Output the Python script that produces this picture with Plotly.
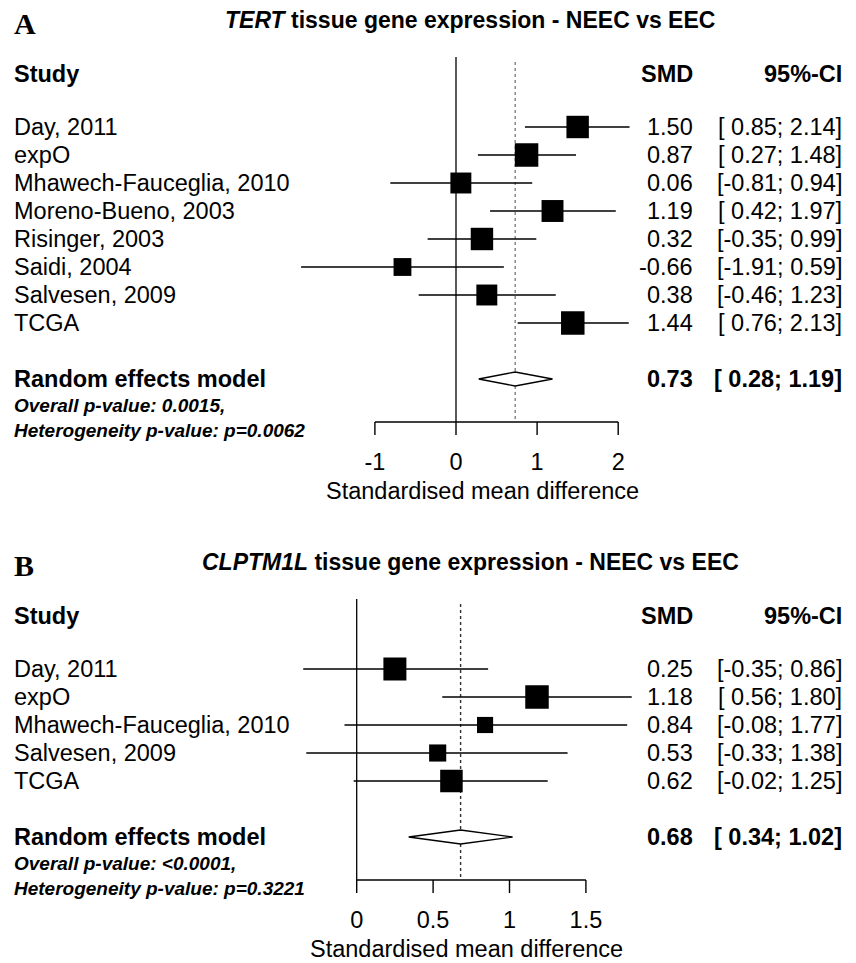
import math
import plotly.graph_objects as go

W, H = 856, 963

# ---------------- data: panel A (TERT) ----------------
a_gene = "TERT"
a_studies = ["Day, 2011", "expO", "Mhawech-Fauceglia, 2010", "Moreno-Bueno, 2003",
             "Risinger, 2003", "Saidi, 2004", "Salvesen, 2009", "TCGA"]
a_smd = [1.50, 0.87, 0.06, 1.19, 0.32, -0.66, 0.38, 1.44]
a_lo = [0.85, 0.27, -0.81, 0.42, -0.35, -1.91, -0.46, 0.76]
a_hi = [2.14, 1.48, 0.94, 1.97, 0.99, 0.59, 1.23, 2.13]
a_weight = [13.3, 14.6, 11.6, 12.7, 13.3, 8.4, 11.6, 14.6]
a_random = [0.73, 0.28, 1.19]          # estimate, lower, upper
a_pvals = ["Overall p-value: 0.0015,", "Heterogeneity p-value: p=0.0062"]
a_ticks = [-1, 0, 1, 2]
a_ticklabels = ["-1", "0", "1", "2"]

# ---------------- data: panel B (CLPTM1L) ----------------
b_gene = "CLPTM1L"
b_studies = ["Day, 2011", "expO", "Mhawech-Fauceglia, 2010", "Salvesen, 2009", "TCGA"]
b_smd = [0.25, 1.18, 0.84, 0.53, 0.62]
b_lo = [-0.35, 0.56, -0.08, -0.33, -0.02]
b_hi = [0.86, 1.80, 1.77, 1.38, 1.25]
b_weight = [24.7, 25.8, 12.2, 13.7, 23.7]
b_random = [0.68, 0.34, 1.02]
b_pvals = ["Overall p-value: <0.0001,", "Heterogeneity p-value: p=0.3221"]
b_ticks = [0, 0.5, 1, 1.5]
b_ticklabels = ["0", "0.5", "1", "1.5"]

# ---------------- layout constants ----------------
SANS = "Liberation Sans, Arial, Helvetica, sans-serif"
SERIF = "Liberation Serif, Times New Roman, serif"
FS = 23.5
ROW = 28
LEFT = 13
SMD_RIGHT = 694
CI_RIGHT = 843
TITLE_X = 470
MAX_SQ = 23.5

panels = [
    dict(letter="A", gene=a_gene, studies=a_studies, smd=a_smd, lo=a_lo, hi=a_hi,
         weight=a_weight, rnd=a_random, pvals=a_pvals, ticks=a_ticks,
         ticklabels=a_ticklabels, off=0, zero_px=456.0, ppu=81.1,
         xa="x", xlabel_x=482, dot_color="#808080"),
    dict(letter="B", gene=b_gene, studies=b_studies, smd=b_smd, lo=b_lo, hi=b_hi,
         weight=b_weight, rnd=b_random, pvals=b_pvals, ticks=b_ticks,
         ticklabels=b_ticklabels, off=542, zero_px=356.7, ppu=152.8,
         xa="x2", xlabel_x=466, dot_color="#303030"),
]

fig = go.Figure()
annotations = []


def ann(x, y, text, size=FS, xanchor="left", color="black", family=SANS):
    annotations.append(dict(x=x / W, y=y, xref="paper", yref="y", text=text,
                            showarrow=False, xanchor=xanchor, yanchor="middle",
                            borderpad=0,
                            font=dict(family=family, size=size, color=color)))


for p in panels:
    off = p["off"]
    n = len(p["studies"])
    title_y = 20 + off
    head_y = 74 + off
    first_y = 127 + off
    rows = [first_y + i * ROW for i in range(n)]
    re_y = rows[-1] + 2 * ROW
    axis_y = re_y + 43
    tick_lab_y = re_y + 85
    xlab_y = re_y + 112
    top_zero = 57 + off
    top_dot = 62 + off
    xa = p["xa"]

    # reference line at zero
    fig.add_trace(go.Scatter(x=[0, 0], y=[top_zero, axis_y], mode="lines",
                             line=dict(color="black", width=1.3), xaxis=xa, yaxis="y",
                             hoverinfo="skip", showlegend=False))
    # dotted line at random-effects estimate
    est, rlo, rhi = p["rnd"]
    fig.add_trace(go.Scatter(x=[est, est], y=[top_dot, axis_y], mode="lines",
                             line=dict(color=p["dot_color"], width=1.4, dash="dot"),
                             xaxis=xa, yaxis="y", hoverinfo="skip", showlegend=False))
    # confidence intervals
    cx, cy = [], []
    for lo, hi, r in zip(p["lo"], p["hi"], rows):
        cx += [lo, hi, None]
        cy += [r, r, None]
    fig.add_trace(go.Scatter(x=cx, y=cy, mode="lines", line=dict(color="black", width=1.5),
                             xaxis=xa, yaxis="y", hoverinfo="skip", showlegend=False))
    # squares sized by weight
    wmax = max(p["weight"])
    sizes = [MAX_SQ * math.sqrt(w / wmax) for w in p["weight"]]
    fig.add_trace(go.Scatter(x=p["smd"], y=rows, mode="markers",
                             marker=dict(symbol="square", size=sizes, color="black",
                                         opacity=1, line=dict(width=0)),
                             xaxis=xa, yaxis="y", hoverinfo="skip", showlegend=False))
    # diamond
    hh = 7
    fig.add_trace(go.Scatter(x=[rlo, est, rhi, est, rlo],
                             y=[re_y, re_y - hh, re_y, re_y + hh, re_y],
                             mode="lines", fill="toself", fillcolor="white",
                             line=dict(color="black", width=1.3),
                             xaxis=xa, yaxis="y", hoverinfo="skip", showlegend=False))
    # axis line with ticks
    t = p["ticks"]
    ax_x = [t[0], t[-1], None]
    ax_y = [axis_y, axis_y, None]
    for tv in t:
        ax_x += [tv, tv, None]
        ax_y += [axis_y, axis_y + 13, None]
    fig.add_trace(go.Scatter(x=ax_x, y=ax_y, mode="lines",
                             line=dict(color="black", width=1.4),
                             xaxis=xa, yaxis="y", hoverinfo="skip", showlegend=False))
    fig.add_trace(go.Scatter(x=t, y=[tick_lab_y] * len(t), mode="text",
                             text=p["ticklabels"], textposition="middle center",
                             textfont=dict(family=SANS, size=FS, color="black"),
                             xaxis=xa, yaxis="y", hoverinfo="skip", showlegend=False))

    # texts
    ann(LEFT, title_y + 3, "<b>%s</b>" % p["letter"], size=30, family=SERIF)
    ann(TITLE_X, title_y,
        "<b><i>%s</i> tissue gene expression - NEEC vs EEC</b>" % p["gene"],
        size=23, xanchor="center")
    ann(LEFT, head_y, "<b>Study</b>")
    ann(SMD_RIGHT, head_y, "<b>SMD</b>", xanchor="right")
    ann(CI_RIGHT, head_y, "<b>95%-CI</b>", xanchor="right")
    for s, v, lo, hi, r in zip(p["studies"], p["smd"], p["lo"], p["hi"], rows):
        ann(LEFT, r, s)
        ann(SMD_RIGHT, r, "%.2f" % v, xanchor="right")
        ann(CI_RIGHT, r, "[%5.2f; %.2f]" % (lo, hi), xanchor="right")
    ann(LEFT, re_y, "<b>Random effects model</b>")
    ann(SMD_RIGHT, re_y, "<b>%.2f</b>" % est, xanchor="right")
    ann(CI_RIGHT, re_y, "<b>[%5.2f; %.2f]</b>" % (rlo, rhi), xanchor="right")
    ann(LEFT, re_y + 26, "<b><i>%s</i></b>" % p["pvals"][0], size=19)
    ann(LEFT, re_y + 51, "<b><i>%s</i></b>" % p["pvals"][1], size=19)
    ann(p["xlabel_x"], xlab_y, "Standardised mean difference", xanchor="center")


def xrange(zero_px, ppu):
    return [-zero_px / ppu, (W - zero_px) / ppu]


fig.update_layout(
    width=W, height=H, margin=dict(l=0, r=0, t=0, b=0),
    paper_bgcolor="white", plot_bgcolor="rgba(0,0,0,0)",
    showlegend=False, annotations=annotations, hovermode=False,
    xaxis=dict(domain=[0, 1], range=xrange(panels[0]["zero_px"], panels[0]["ppu"]),
               visible=False, fixedrange=True, anchor="y"),
    xaxis2=dict(domain=[0, 1], range=xrange(panels[1]["zero_px"], panels[1]["ppu"]),
                visible=False, fixedrange=True, anchor="y", overlaying="x"),
    yaxis=dict(domain=[0, 1], range=[H, 0], visible=False, fixedrange=True),
)

# the page's default 8px body margin would shift the chart; remove it
fig.write_html("out.html",
               config={"displayModeBar": False, "staticPlot": True},
               post_script="document.body.style.margin='0';"
                           "document.body.style.overflow='hidden';")
